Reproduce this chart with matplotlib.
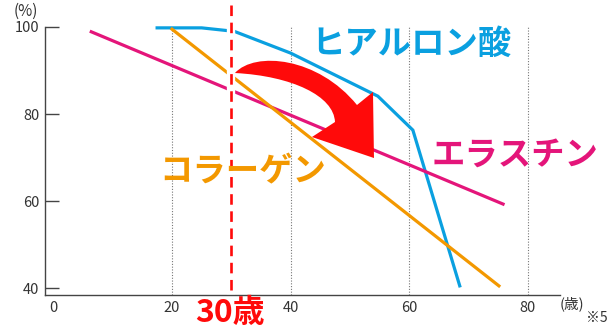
import numpy as np
import matplotlib
matplotlib.use('Agg')
import matplotlib.pyplot as plt
from matplotlib.patches import PathPatch
from matplotlib.path import Path

plt.rcParams['font.family'] = ['Noto Sans CJK JP', 'DejaVu Sans']

# Values (age in years, amount in %)
hyaluronic_age = [17.5, 25.0, 30.5, 40.0, 54.7, 60.6, 68.5]
hyaluronic_pct = [99.8, 99.8, 99.0, 94.0, 84.1, 76.3, 40.5]
elastin_age = [6.4, 75.8]
elastin_pct = [98.9, 59.3]
collagen_age = [20.0, 75.1]
collagen_pct = [99.5, 40.5]
x_ticks = [0, 20, 40, 60, 80]
y_ticks = [40, 60, 80, 100]
marker_age = 30

blue = '#0aa0e0'
pink = '#e4157a'
orange = '#f39800'
red = '#ff0a0a'
axis_col = '#444444'

fig = plt.figure(figsize=(6.07, 3.28), dpi=100)
ax = fig.add_axes([0.0741, 0.1006, 0.8485, 0.8171])
ax.set_xlim(-1.4, 85.4)
ax.set_ylim(38.4, 100)

# dotted vertical guides
for xv in x_ticks[1:]:
    ax.plot([xv, xv], [38.4, 100], color='#777777', lw=0.8, ls=(0, (1, 1.5)), zorder=1)

ax.plot(hyaluronic_age, hyaluronic_pct, color=blue, lw=2.3, clip_on=False, zorder=3,
        solid_joinstyle='miter')
ax.plot(elastin_age, elastin_pct, color=pink, lw=2.3, clip_on=False, zorder=3)
ax.plot(collagen_age, collagen_pct, color=orange, lw=2.3, clip_on=False, zorder=3)

# 30 years marker: white gap underneath, red dashes on top
ax.plot([marker_age, marker_age], [39.5, 105.7], color='white', lw=6, clip_on=False, zorder=4)
ax.plot([marker_age, marker_age], [39.5, 105.7], color=red, lw=1.9, ls=(0, (4, 2.5)),
        clip_on=False, zorder=5)


# curved arrow, outline sketched in pixel units then mapped to data units
def px(x, y):
    return (20 + (x - 172) / 5.933, 100 - (y - 27) / 4.35)


arrow_verts = [px(235, 73), px(255, 51), px(318, 57), px(357, 105),
               px(373, 92), px(374, 158), px(312, 137), px(335, 122),
               px(334, 96), px(292, 76), px(235, 73), px(235, 73)]
arrow_codes = [Path.MOVETO, Path.CURVE4, Path.CURVE4, Path.CURVE4,
               Path.LINETO, Path.LINETO, Path.LINETO, Path.LINETO,
               Path.CURVE4, Path.CURVE4, Path.CURVE4, Path.CLOSEPOLY]
ax.add_patch(PathPatch(Path(arrow_verts, arrow_codes), facecolor=red, edgecolor='none',
                       zorder=6, clip_on=False))

# labels
ax.text(60.45, 95.9, 'ヒアルロン酸', color=blue, fontsize=24, fontweight='bold',
        ha='center', va='center', zorder=7)
ax.text(77.8, 70.6, 'エラスチン', color=pink, fontsize=24, fontweight='bold',
        ha='center', va='center', zorder=7, clip_on=False)
ax.text(32.0, 66.7, 'コラーゲン', color=orange, fontsize=24, fontweight='bold',
        ha='center', va='center', zorder=7)
ax.text(29.8, 34.3, '30歳', color=red, fontsize=23, fontweight='bold',
        ha='center', va='center', zorder=7, clip_on=False)

# axes styling
for s in ['top', 'right']:
    ax.spines[s].set_visible(False)
for s in ['left', 'bottom']:
    ax.spines[s].set_color(axis_col)
    ax.spines[s].set_linewidth(1.0)
ax.set_xticks(x_ticks)
ax.set_yticks(y_ticks)
ax.tick_params(axis='y', direction='in', length=10, width=1, color=axis_col,
               labelcolor='#333333', labelsize=10.5, pad=4)
ax.tick_params(axis='x', direction='out', length=0, labelcolor='#333333',
               labelsize=10.5, pad=4)

fig.text(26 / 607, 1 - 11 / 328, '(%)', fontsize=11, color='#333333', ha='center', va='center')
fig.text(572 / 607, 1 - 304 / 328, '(歳)', fontsize=10.5, color='#333333', ha='center', va='center')
fig.text(597 / 607, 1 - 318 / 328, '※5', fontsize=10, color='#333333', ha='center', va='center')

fig.savefig('out.png', dpi=100)
